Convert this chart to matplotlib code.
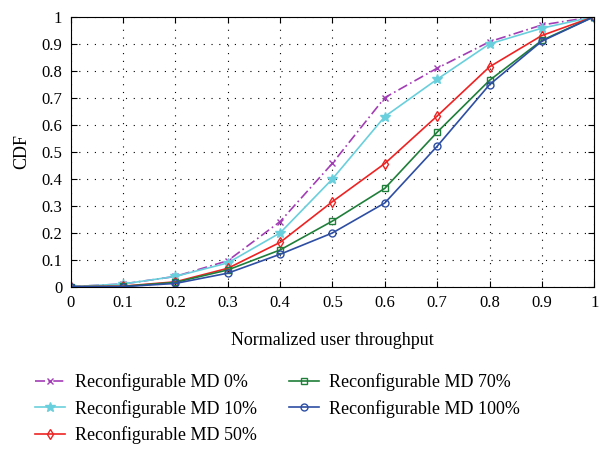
import matplotlib
matplotlib.use("Agg")
import matplotlib.pyplot as plt
from matplotlib.ticker import FixedLocator

plt.rcParams['font.family'] = ['Liberation Serif', 'DejaVu Serif']

x = [0, 0.1, 0.2, 0.3, 0.4, 0.5, 0.6, 0.7, 0.8, 0.9, 1.0]
md0 = [0, 0.010, 0.038, 0.096, 0.241, 0.457, 0.700, 0.809, 0.907, 0.969, 1.0]
md10 = [0, 0.010, 0.038, 0.088, 0.199, 0.399, 0.630, 0.768, 0.899, 0.957, 1.0]
md50 = [0, 0.002, 0.018, 0.068, 0.164, 0.315, 0.456, 0.632, 0.814, 0.930, 1.0]
md70 = [0, 0.001, 0.016, 0.062, 0.136, 0.243, 0.364, 0.572, 0.764, 0.912, 1.0]
md100 = [0, 0.000, 0.012, 0.050, 0.120, 0.199, 0.310, 0.520, 0.748, 0.909, 1.0]
labels = ['Reconfigurable MD 0%', 'Reconfigurable MD 10%', 'Reconfigurable MD 50%',
          'Reconfigurable MD 70%', 'Reconfigurable MD 100%']
ticks = [0, 0.1, 0.2, 0.3, 0.4, 0.5, 0.6, 0.7, 0.8, 0.9, 1]
tick_labels = ['0', '0.1', '0.2', '0.3', '0.4', '0.5', '0.6', '0.7', '0.8', '0.9', '1']

fig = plt.figure(figsize=(5.99, 4.49), dpi=100)
ax = fig.add_axes([0.118, 0.3615, 0.874, 0.6015])

styles = [
    dict(color='#A33DB5', ls=(0, (6, 2, 1, 2)), marker='x', ms=4, mew=1),
    dict(color='#6ACFDC', ls='-', marker='*', ms=7, mew=1),
    dict(color='#EE2222', ls='-', marker='d', ms=5, mew=1, mfc='none'),
    dict(color='#1F7F3A', ls='-', marker='s', ms=4, mew=1, mfc='none'),
    dict(color='#2D4EA3', ls='-', marker='o', ms=5, mew=1, mfc='none'),
]
series = [md0, md10, md50, md70, md100]
handles = []
for s, lab, st in zip(series, labels, styles):
    h, = ax.plot(x, s, lw=1.2, label=lab, **st)
    handles.append(h)

ax.set_xlim(0, 1)
ax.set_ylim(0, 1)
ax.xaxis.set_major_locator(FixedLocator(ticks))
ax.yaxis.set_major_locator(FixedLocator(ticks))
ax.set_xticklabels(tick_labels)
ax.set_yticklabels(tick_labels)
ax.tick_params(direction='in', top=True, right=True, labelsize=12, length=4, pad=6)
ax.grid(True, color='black', ls=(0, (1, 6)), lw=0.8)
for sp in ax.spines.values():
    sp.set_linewidth(0.8)
ax.set_xlabel('Normalized user throughput', fontsize=13, labelpad=15)
ax.set_ylabel('CDF', fontsize=13, labelpad=8)

fig.legend(handles=handles, labels=labels, loc='upper left', bbox_to_anchor=(0.058, 0.168),
           ncol=2, frameon=False, fontsize=13, handlelength=1.67, columnspacing=1.8,
           labelspacing=0.47, handletextpad=0.55, borderaxespad=0, borderpad=0)

fig.savefig('out.png', dpi=100)
